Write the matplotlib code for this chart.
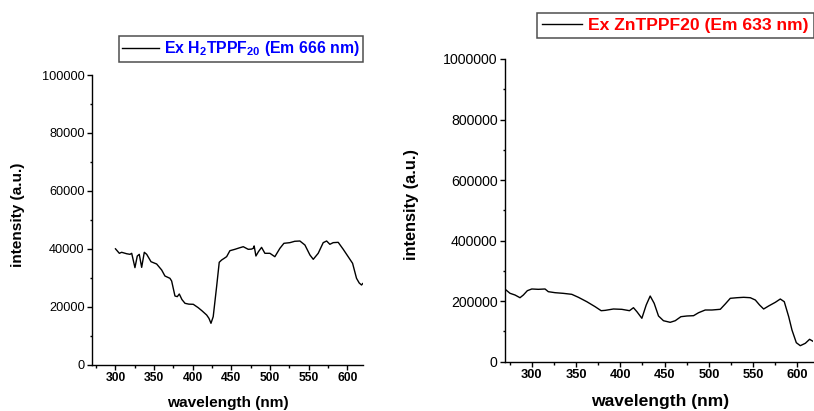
import matplotlib
matplotlib.use("Agg")
import matplotlib.pyplot as plt
from matplotlib.ticker import MultipleLocator, StrMethodFormatter

plt.rcParams["font.family"] = ["Liberation Sans", "DejaVu Sans"]
plt.rcParams["mathtext.fontset"] = "custom"
plt.rcParams["mathtext.rm"] = "Liberation Sans"
plt.rcParams["mathtext.bf"] = "Liberation Sans:bold"

# Excitation spectrum of H2TPPF20 (emission monitored at 666 nm)
wl_h2 = [300, 305, 308, 314.5, 318.8, 321, 325.2, 328.2, 330.8, 333.9, 337.3, 340.4,
         346, 353.3, 359.8, 364, 370.5, 372.7, 377, 380, 382.6, 386, 390, 395, 400.7,
         407.1, 412, 418, 421, 423.6, 426.5, 430.9, 434.3, 437.4, 440.8, 443.9, 448.1,
         454.6, 460, 465.4, 471.8, 476, 478.3, 479.5, 481.8, 485, 489.1, 493.4, 499.9,
         506.3, 512.8, 518, 525.8, 532, 538.7, 545.2, 551.7, 556, 562.4, 568.9, 573.3,
         577.5, 581.8, 588.3, 594.8, 601.2, 606.9, 612, 615.5, 618.5, 620]
int_h2 = [40000, 38450, 38800, 38300, 38100, 38450, 33500, 37500, 38100, 33600, 38800,
          38100, 35550, 34760, 32690, 30620, 29820, 28890, 23710, 23500, 24400, 22500,
          21190, 20900, 20850, 19680, 18600, 17160, 16000, 14290, 16570, 26930, 35350,
          36140, 36730, 37300, 39350, 39830, 40300, 40730, 39830, 39900, 40160, 41000,
          37520, 39000, 40500, 38450, 38450, 37280, 40160, 41900, 42130, 42600, 42700,
          41320, 37870, 36380, 38450, 42130, 42700, 41560, 42130, 42240, 39830, 37280,
          35000, 29820, 28200, 27510, 28000]

# Excitation spectrum of ZnTPPF20 (emission monitored at 633 nm)
wl_zn = [270.8, 275.3, 281, 286.6, 290.4, 294.9, 299.9, 307.3, 314.9, 318.6, 326.2,
         335.6, 345.1, 352.6, 362.1, 371.5, 378.3, 382.8, 392.2, 401.7, 410.3, 414.8,
         418.7, 424.3, 429.2, 433.7, 438.2, 443.1, 448.7, 456.3, 462, 468.4, 475.2,
         482.7, 488.4, 495.9, 503.5, 512.9, 518.5, 524.2, 531.8, 539.3, 546.8, 552.5,
         557.3, 561.9, 567.5, 575.1, 580.7, 585.2, 590.2, 593.9, 598.8, 603.3, 609,
         613.8, 618.4]
int_zn = [236900, 226000, 220300, 211400, 220300, 234600, 240200, 239100, 240200,
          231300, 228000, 225800, 222600, 212700, 198200, 181700, 168500, 169600,
          174100, 173000, 168500, 178400, 165200, 143400, 187300, 217000, 192900,
          151000, 135400, 130100, 135400, 148700, 151000, 152000, 161900, 170800,
          170800, 173100, 190600, 209400, 211400, 212700, 211400, 203800, 187300,
          174100, 184000, 196200, 207100, 198200, 148700, 104700, 62800, 52900,
          60800, 74000, 66100]

label_h2 = r"Ex H$_{\mathbf{2}}$TPPF$_{\mathbf{20}}$ (Em 666 nm)"
label_zn = "Ex ZnTPPF20 (Em 633 nm)"

W, H = 814, 411
fig = plt.figure(figsize=(W / 100, H / 100), dpi=100)

ax1 = fig.add_axes([92.3 / W, 1 - 364.7 / H, (362.7 - 92.3) / W, (364.7 - 75) / H])
ax2 = fig.add_axes([505.3 / W, 1 - 361.7 / H, (813.3 - 505.3) / W, (361.7 - 59) / H])


def style(ax, ymaj, ymin, ytick_fs, xtick_fs):
    for s in ("top", "right"):
        ax.spines[s].set_visible(False)
    for s in ("left", "bottom"):
        ax.spines[s].set_linewidth(1.0)
    ax.xaxis.set_major_locator(MultipleLocator(50))
    ax.xaxis.set_minor_locator(MultipleLocator(25))
    ax.yaxis.set_major_locator(MultipleLocator(ymaj))
    ax.yaxis.set_minor_locator(MultipleLocator(ymin))
    ax.yaxis.set_major_formatter(StrMethodFormatter("{x:.0f}"))
    ax.tick_params(which="major", direction="out", length=3.6, width=1.0)
    ax.tick_params(which="minor", direction="out", length=1.8, width=1.0)
    ax.tick_params(axis="y", labelsize=ytick_fs, pad=2)
    ax.tick_params(axis="x", labelsize=xtick_fs, pad=2)
    for t in ax.get_xticklabels():
        t.set_fontweight("bold")


def boxed_legend(ax, center, size, color, pad, hlen):
    leg = ax.legend(loc="center", bbox_to_anchor=center,
                    bbox_transform=fig.transFigure, frameon=True, fancybox=False,
                    prop={"weight": "bold", "size": size}, labelcolor=color,
                    handlelength=hlen, handletextpad=0.35, borderpad=pad,
                    borderaxespad=0)
    leg.get_frame().set_edgecolor("#222222")
    leg.get_frame().set_linewidth(1.1)
    return leg


# left panel
ax1.plot(wl_h2, int_h2, color="black", lw=1.0, label=label_h2)
ax1.set_xlim(270, 620)
ax1.set_ylim(0, 100000)
style(ax1, 20000, 10000, 9.2, 8.7)
ax1.set_xlabel("wavelength (nm)", fontsize=11.1, fontweight="bold")
ax1.set_ylabel("intensity (a.u.)", fontsize=11.1, fontweight="bold")
ax1.xaxis.set_label_coords(227.5 / W, 1 - 402.7 / H, transform=fig.transFigure)
ax1.yaxis.set_label_coords(18.5 / W, 1 - 215.3 / H, transform=fig.transFigure)
ax1.xaxis.label.set_va("center")
ax1.yaxis.label.set_va("center")
boxed_legend(ax1, (241 / W, 1 - 49 / H), 11.4, "#0000ff", 0.22, 2.3)

# right panel
ax2.plot(wl_zn, int_zn, color="black", lw=1.0, label=label_zn)
ax2.set_xlim(270, 618)
ax2.set_ylim(0, 1000000)
style(ax2, 200000, 100000, 10.2, 9.3)
ax2.set_xlabel("wavelength (nm)", fontsize=12.6, fontweight="bold")
ax2.set_ylabel("intensity (a.u.)", fontsize=11.8, fontweight="bold")
ax2.xaxis.set_label_coords(660.3 / W, 1 - 401.7 / H, transform=fig.transFigure)
ax2.yaxis.set_label_coords(411.7 / W, 1 - 204.2 / H, transform=fig.transFigure)
ax2.xaxis.label.set_va("center")
ax2.yaxis.label.set_va("center")
boxed_legend(ax2, (675.5 / W, 1 - 25.5 / H), 12.6, "#ff0000", 0.3, 2.3)

fig.savefig("out.png", dpi=100)
